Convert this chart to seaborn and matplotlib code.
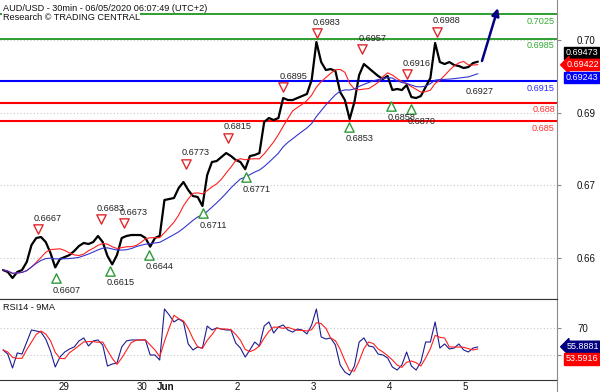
import numpy as np
import pandas as pd
import matplotlib
matplotlib.use("Agg")
import matplotlib.pyplot as plt
import matplotlib.transforms as mtransforms
from matplotlib.lines import Line2D
import seaborn as sns

sns.set_style("white")
plt.rcParams["font.family"] = ["Liberation Sans", "DejaVu Sans"]

# --- data (30min bars, one value every 3 bars) ---
BAR_STEP = 3
close = [
    0.66057, 0.66025, 0.65926, 0.66025, 0.66057, 0.66189, 0.66467, 0.66582, 0.66598, 0.66516,
    0.66336, 0.66100, 0.66238, 0.66270, 0.66303, 0.66369, 0.66451, 0.66500, 0.66484, 0.66516,
    0.66615, 0.66516, 0.66287, 0.66150, 0.66303, 0.66582, 0.66615, 0.66631, 0.66631, 0.66631,
    0.66582, 0.66440, 0.66582, 0.66615, 0.67205, 0.67221, 0.67238, 0.67402, 0.67500, 0.67369,
    0.67270, 0.67254, 0.67107, 0.67615, 0.67828, 0.67844, 0.67910, 0.67975, 0.67926, 0.67861,
    0.67828, 0.67710, 0.67926, 0.67943, 0.67975, 0.68484, 0.68549, 0.68516, 0.68549, 0.68877,
    0.68844, 0.68844, 0.68877, 0.68910, 0.68943, 0.69172, 0.69795, 0.69467, 0.69336, 0.69352,
    0.69320, 0.68975, 0.68844, 0.68530, 0.68811, 0.69254, 0.69434, 0.69369, 0.69303, 0.69238,
    0.69189, 0.69238, 0.69008, 0.69025, 0.69008, 0.69090, 0.68893, 0.68877, 0.68910, 0.69057,
    0.69205, 0.69779, 0.69467, 0.69434, 0.69467, 0.69418, 0.69402, 0.69369, 0.69385, 0.69451,
    0.69473,
]
rsi = [
    53.7, 50.7, 40.5, 51.5, 50.7, 59.5, 68.3, 67.6, 66.8, 61.7,
    52.9, 41.2, 48.5, 52.2, 54.4, 55.9, 60.3, 62.5, 56.6, 60.3,
    61.0, 57.3, 41.9, 43.4, 44.1, 55.9, 60.3, 61.0, 61.0, 61.0,
    61.0, 50.0, 50.0, 46.3, 83.7, 79.3, 74.2, 76.4, 74.2, 58.1,
    53.7, 55.9, 55.1, 71.2, 68.3, 69.8, 69.0, 68.3, 68.3, 58.8,
    55.1, 48.5, 53.7, 59.5, 56.6, 71.2, 74.2, 66.1, 70.5, 72.0,
    68.3, 66.8, 69.0, 68.3, 65.4, 72.0, 83.7, 63.2, 61.7, 62.5,
    57.3, 42.7, 37.5, 35.3, 41.9, 59.5, 62.5, 56.6, 55.9, 50.7,
    50.0, 47.8, 41.2, 39.0, 42.7, 52.2, 41.9, 39.0, 44.9, 59.5,
    59.5, 74.2, 55.1, 58.1, 54.4, 55.1, 58.1, 53.7, 52.2, 55.1,
    55.9,
]

day_ticks = [34, 83, 96, 145, 193, 241, 289]
day_labels = ["29", "30", "Jun", "2", "3", "4", "5"]
price_ticks = [0.69828, 0.68631, 0.67451, 0.66254]
price_tick_labels = ["0.70", "0.69", "0.67", "0.66"]
rsi_ticks = [50, 70]
rsi_tick_labels = ["", "70"]

resistance_levels = [0.7025, 0.6985]
pivot_levels = [0.6915]
support_levels = [0.688, 0.685]

high_bars = [21.9, 61.9, 76.4, 115.6, 142.3, 177.1, 198.2, 227.0, 255.0, 274.0]
high_anchor = [0.66725, 0.66889, 0.66823, 0.67795, 0.68226, 0.69052, 0.69938, 0.69675, 0.69266, 0.69964]
high_labels = ["0.6667", "0.6683", "0.6673", "0.6773", "0.6815", "0.6895", "0.6983", "0.6957", "0.6916", "0.6988"]

low_bars = [33.3, 67.6, 92.2, 126.2, 153.3, 218.6, 245.1, 257.7]
low_anchor = [0.65921, 0.66046, 0.66303, 0.66987, 0.67577, 0.68407, 0.68746, 0.68692]
low_labels = ["0.6607", "0.6615", "0.6644", "0.6711", "0.6771", "0.6853", "0.6858", "0.6870"]

target_bar = [292.5]
target_anchor = [0.68992]
target_label = ["0.6927"]

arrow_start = (302.6, 0.69484)
arrow_end = (312.7, 0.70352)

last_price = 0.69473
last_fast_ma = 0.69422
last_slow_ma = 0.69243
last_rsi = 55.8881
last_rsi_ma = 53.5916

# --- frames ---
df = pd.DataFrame({"bar": np.arange(len(close)) * BAR_STEP, "close": close})
df["fast"] = df["close"].rolling(7, min_periods=1).mean()
df["slow"] = df["close"].rolling(17, min_periods=1).mean()
rdf = pd.DataFrame({"bar": np.arange(len(rsi)) * BAR_STEP, "rsi": rsi})
rdf["ma"] = rdf["rsi"].rolling(3, min_periods=1).mean()

GREEN, BLUE, RED, NAVY = "#1e961e", "#0000ff", "#ff0000", "#000080"
FS = 6.6
BOX_FS = 6.5

fig = plt.figure(figsize=(6.0, 3.92), dpi=100)
ax = fig.add_axes([0, 93 / 392, 557 / 600, 299 / 392])
ax2 = fig.add_axes([0, 12 / 392, 557 / 600, 81 / 392], sharex=ax)

# main panel
for lv in price_ticks:
    ax.axhline(lv, color="#c8c8c8", lw=0.8, ls=(0, (1, 2)), zorder=0)
for lv in resistance_levels:
    ax.axhline(lv, color=GREEN, lw=1.3, zorder=1)
for lv in pivot_levels:
    ax.axhline(lv, color=BLUE, lw=1.5, zorder=1)
for lv in support_levels:
    ax.axhline(lv, color=RED, lw=1.5, zorder=1)

sns.lineplot(data=df, x="bar", y="close", ax=ax, color="black", lw=1.6,
             estimator=None, sort=False, zorder=3)
sns.lineplot(data=df, x="bar", y="fast", ax=ax, color="#ff2020", lw=0.8,
             estimator=None, sort=False, zorder=4)
sns.lineplot(data=df, x="bar", y="slow", ax=ax, color="#3535d0", lw=0.8,
             estimator=None, sort=False, zorder=4)

sns.scatterplot(x=high_bars, y=high_anchor, ax=ax, marker="v", s=45, color="white",
                edgecolor="#e0282c", linewidth=1.0, zorder=6)
sns.scatterplot(x=low_bars, y=low_anchor, ax=ax, marker="^", s=45, color="white",
                edgecolor="#2e9a3a", linewidth=1.0, zorder=6)
for b, v, t in zip(high_bars, high_anchor, high_labels):
    ax.annotate(t, (b, v), xytext=(-3, 8), textcoords="offset points",
                ha="left", va="center", fontsize=FS, color="#222222", zorder=7)
for b, v, t in zip(low_bars, low_anchor, low_labels):
    ax.annotate(t, (b, v), xytext=(-2.5, -8.5), textcoords="offset points",
                ha="left", va="center", fontsize=FS, color="#222222", zorder=7)
for b, v, t in zip(target_bar, target_anchor, target_label):
    ax.annotate(t, (b, v), ha="left", va="center", fontsize=FS, color="#222222")

for levels, col in [(resistance_levels, "#33aa33"), (pivot_levels, "#2a2aff"), (support_levels, "#ff3030")]:
    for lv in levels:
        ax.annotate(str(lv), (1, lv), xycoords=("axes fraction", "data"),
                    xytext=(-1.5, -5.2), textcoords="offset points",
                    ha="right", va="center", fontsize=FS, color=col)

ax.annotate("", xy=arrow_end, xytext=arrow_start,
            arrowprops=dict(arrowstyle="-|>", color=NAVY, lw=1.8, mutation_scale=11,
                            shrinkA=0, shrinkB=0), zorder=8)

ax.text(0.005, 0.972, "AUD/USD - 30min - 06/05/2020 06:07:49 (UTC+2)", transform=ax.transAxes,
        fontsize=FS, va="center", ha="left", color="#111111",
        bbox=dict(fc="white", ec="none", pad=0.3), zorder=9)
ax.text(0.005, 0.94, "Research \u00a9 TRADING CENTRAL", transform=ax.transAxes,
        fontsize=FS, va="center", ha="left", color="#111111",
        bbox=dict(fc="white", ec="none", pad=0.3), zorder=9)

ax.set_xlim(-1.9, 350)
ax.set_ylim(0.65582, 0.70484)
ax.set_yticks(price_ticks)
ax.set_yticklabels(price_tick_labels)
ax.yaxis.tick_right()
ax.tick_params(axis="y", direction="out", length=3, width=0.8, color="#888888",
               pad=11, labelsize=7, labelcolor="#111111")
ax.tick_params(axis="x", bottom=False, labelbottom=False)
ax.set_xlabel("")
ax.set_ylabel("")
for s in ["top", "left"]:
    ax.spines[s].set_visible(False)
ax.spines["right"].set_color("#8a8a8a")
ax.spines["bottom"].set_color("#333333")

box_kw = dict(transform=ax.transAxes, fontsize=BOX_FS, color="white", ha="left", va="center",
              clip_on=False, zorder=10)
ax.text(1.015, 0.823, f"{last_price:.5f}", bbox=dict(boxstyle="square,pad=0.12", fc="black", ec="black"), **box_kw)
ax.text(1.017, 0.783, f"{last_fast_ma:.5f}", bbox=dict(boxstyle="larrow,pad=0.12", fc=RED, ec=RED), **box_kw)
ax.text(1.015, 0.741, f"{last_slow_ma:.5f}", bbox=dict(boxstyle="square,pad=0.12", fc=BLUE, ec=BLUE), **box_kw)

# RSI panel
for lv in rsi_ticks:
    ax2.axhline(lv, color="#c8c8c8", lw=0.8, ls=(0, (1, 2)), zorder=0)
sns.lineplot(data=rdf, x="bar", y="rsi", ax=ax2, color="#1c1c90", lw=0.8,
             estimator=None, sort=False)
sns.lineplot(data=rdf, x="bar", y="ma", ax=ax2, color="#ff2020", lw=0.8,
             estimator=None, sort=False)
ax2.text(0.005, 0.9, "RSI14 - 9MA", transform=ax2.transAxes, fontsize=FS,
         va="center", ha="left", color="#111111")
ax2.set_ylim(31.7, 91.0)
ax2.set_yticks(rsi_ticks)
ax2.set_yticklabels(rsi_tick_labels)
ax2.yaxis.tick_right()
ax2.tick_params(axis="y", direction="out", length=3, width=0.8, color="#888888",
                pad=12, labelsize=7, labelcolor="#111111")
ax2.set_xticks(day_ticks)
ax2.set_xticklabels(day_labels)
ax2.tick_params(axis="x", direction="out", length=4, width=0.8, color="#333333",
                pad=-2.5, labelsize=7, labelcolor="#111111")
shift = mtransforms.ScaledTranslation(1.5 / 72, 0, fig.dpi_scale_trans)
for lab in ax2.get_xticklabels():
    lab.set_ha("left")
    lab.set_transform(lab.get_transform() + shift)
    if lab.get_text() == "Jun":
        lab.set_fontweight("bold")
ax2.set_xlabel("")
ax2.set_ylabel("")
ax2.spines["left"].set_visible(False)
ax2.spines["right"].set_color("#8a8a8a")
for s in ["top", "bottom"]:
    ax2.spines[s].set_color("#333333")

box2 = dict(transform=ax2.transAxes, fontsize=BOX_FS, color="white", ha="left", va="center",
            clip_on=False, zorder=10)
ax2.text(1.017, 0.41, f"{last_rsi:.4f}", bbox=dict(boxstyle="larrow,pad=0.12", fc=NAVY, ec=NAVY), **box2)
ax2.text(1.015, 0.26, f"{last_rsi_ma:.4f}", bbox=dict(boxstyle="square,pad=0.12", fc=RED, ec=RED), **box2)

fig.add_artist(Line2D([557 / 600, 557 / 600], [0, 12 / 392], color="#8a8a8a", lw=0.8))

fig.savefig("out.png", dpi=100)
